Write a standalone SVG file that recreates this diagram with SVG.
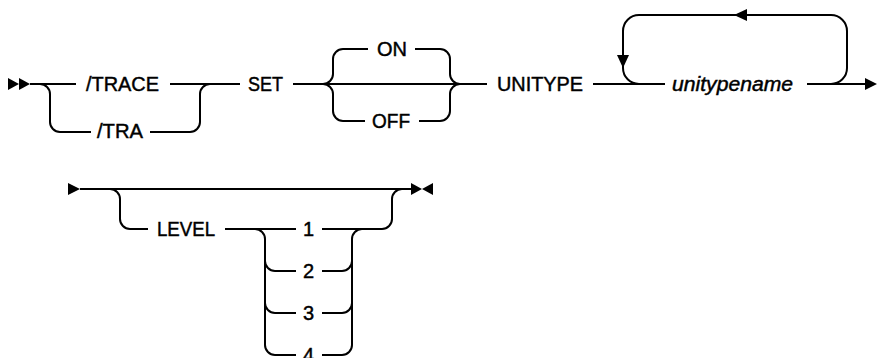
<svg xmlns="http://www.w3.org/2000/svg" width="877" height="358" viewBox="0 0 877 358">
<style>
.ln{fill:none;stroke:#000;stroke-width:2;stroke-linecap:butt}
.ar{fill:#000;stroke:none}
text{font-family:"Liberation Sans","DejaVu Sans",sans-serif;font-size:20px;fill:#000;stroke:#000;stroke-width:0.45}
.it{font-style:italic}
</style>
<rect width="877" height="358" fill="#fff"/>
<g id="connectors">
<path class="ln" d="M30,84 H76 M170,84 H240 M293,84 H487 M593,84 H665 M807,84 H867"/>
<path class="ln" d="M40,84 A10,10 0 0 1 50,94 V122 A10,10 0 0 0 60,132 H91 M150,132 H190 A10,10 0 0 0 200,122 V94 A10,10 0 0 1 210,84"/>
<path class="ln" d="M323,84 A10,10 0 0 0 333,74 V59 A10,10 0 0 1 343,49 H368 M415,49 H440 A10,10 0 0 1 450,59 V74 A10,10 0 0 0 460,84"/>
<path class="ln" d="M323,84 A10,10 0 0 1 333,94 V111 A10,10 0 0 0 343,121 H365 M419,121 H440 A10,10 0 0 0 450,111 V94 A10,10 0 0 1 460,84"/>
<path class="ln" d="M831,84 A16,16 0 0 0 847,68 V31 A16,16 0 0 0 831,15 H639 A16,16 0 0 0 623,31 V68 A16,16 0 0 0 639,84"/>
<path class="ln" d="M80,189 H412"/>
<path class="ln" d="M110,189 A10,10 0 0 1 120,199 V219 A10,10 0 0 0 130,229 H148 M225,229 H296 M322,229 H382 A10,10 0 0 0 392,219 V199 A10,10 0 0 1 402,189"/>
<path class="ln" d="M255,229 A10,10 0 0 1 265,239 V345 A10,10 0 0 0 275,355 H296 M265,261 A10,10 0 0 0 275,271 H296 M265,303 A10,10 0 0 0 275,313 H296"/>
<path class="ln" d="M322,271 H342 A10,10 0 0 0 352,261 M322,313 H342 A10,10 0 0 0 352,303 M322,355 H342 A10,10 0 0 0 352,345 V239 A10,10 0 0 1 362,229"/>
<polygon class="ar" points="8,78 19,84 8,90"/>
<polygon class="ar" points="19,78 30,84 19,90"/>
<polygon class="ar" points="617,55 629,55 623,68"/>
<polygon class="ar" points="734,15 747,9 747,21"/>
<polygon class="ar" points="865,78 877,84 865,90"/>
<polygon class="ar" points="68,183 80,189 68,195"/>
<polygon class="ar" points="411,183 422,189 411,195"/>
<polygon class="ar" points="433,183 422,189 433,195"/>
</g>
<g id="n-trace"><text x="86" y="91" textLength="73" lengthAdjust="spacingAndGlyphs">/TRACE</text></g>
<g id="n-tra"><text x="97" y="138" textLength="46" lengthAdjust="spacingAndGlyphs">/TRA</text></g>
<g id="n-set"><text x="248" y="91" textLength="35" lengthAdjust="spacingAndGlyphs">SET</text></g>
<g id="n-on"><text x="377" y="56" textLength="30" lengthAdjust="spacingAndGlyphs">ON</text></g>
<g id="n-off"><text x="372" y="128" textLength="38" lengthAdjust="spacingAndGlyphs">OFF</text></g>
<g id="n-unitype"><text x="497" y="91" textLength="86" lengthAdjust="spacingAndGlyphs">UNITYPE</text></g>
<g id="n-unitypename"><text class="it" x="672" y="91" textLength="121" lengthAdjust="spacingAndGlyphs">unitypename</text></g>
<g id="n-level"><text x="157" y="236" textLength="58" lengthAdjust="spacingAndGlyphs">LEVEL</text></g>
<g id="n-1"><text x="303" y="236">1</text></g>
<g id="n-2"><text x="303" y="278">2</text></g>
<g id="n-3"><text x="303" y="320">3</text></g>
<g id="n-4"><text x="303" y="362">4</text></g>
</svg>
